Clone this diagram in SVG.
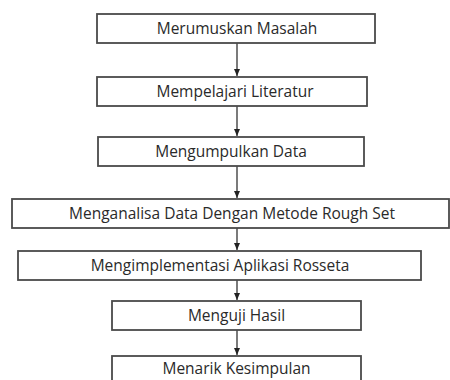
<svg xmlns="http://www.w3.org/2000/svg" width="450" height="380" viewBox="0 0 450 380">
<defs>
<style>
.box{fill:#fff;stroke:#4a4a4a;stroke-width:1.8}
.t{font-family:"Open Sans","Liberation Sans",sans-serif;font-size:15.5px;fill:#2a2a2a;text-anchor:middle}
.c{stroke:#333;stroke-width:1.3;fill:none}
</style>
<marker id="ah" markerWidth="8" markerHeight="6" refX="7" refY="3" orient="auto" markerUnits="userSpaceOnUse">
<path d="M0,0 L7,3 L0,6 Z" fill="#222"/>
</marker>
</defs>
<rect width="450" height="380" fill="#fff"/>
<g id="connectors">
<line class="c" x1="237" y1="43" x2="237" y2="76" marker-end="url(#ah)"/>
<line class="c" x1="237" y1="106" x2="237" y2="136" marker-end="url(#ah)"/>
<line class="c" x1="237" y1="166" x2="237" y2="198" marker-end="url(#ah)"/>
<line class="c" x1="237" y1="228" x2="237" y2="250" marker-end="url(#ah)"/>
<line class="c" x1="237" y1="280" x2="237" y2="300" marker-end="url(#ah)"/>
<line class="c" x1="237" y1="330" x2="237" y2="355" marker-end="url(#ah)"/>
</g>
<g id="n1"><rect class="box" x="97" y="14" width="278" height="29"/><text class="t" x="237" y="33.5">Merumuskan Masalah</text></g>
<g id="n2"><rect class="box" x="97" y="77" width="270" height="29"/><text class="t" x="235" y="96.5">Mempelajari Literatur</text></g>
<g id="n3"><rect class="box" x="98" y="137" width="266" height="29"/><text class="t" x="231" y="156.5">Mengumpulkan Data</text></g>
<g id="n4"><rect class="box" x="12" y="199" width="437" height="29"/><text class="t" x="232" y="218.5">Menganalisa Data Dengan Metode Rough Set</text></g>
<g id="n5"><rect class="box" x="18" y="251" width="403" height="29"/><text class="t" x="220" y="270.5">Mengimplementasi Aplikasi Rosseta</text></g>
<g id="n6"><rect class="box" x="112" y="301" width="249" height="29"/><text class="t" x="236.5" y="320.5">Menguji Hasil</text></g>
<g id="n7"><rect class="box" x="112" y="356" width="249" height="29"/><text class="t" x="236.5" y="373.5">Menarik Kesimpulan</text></g>
</svg>
